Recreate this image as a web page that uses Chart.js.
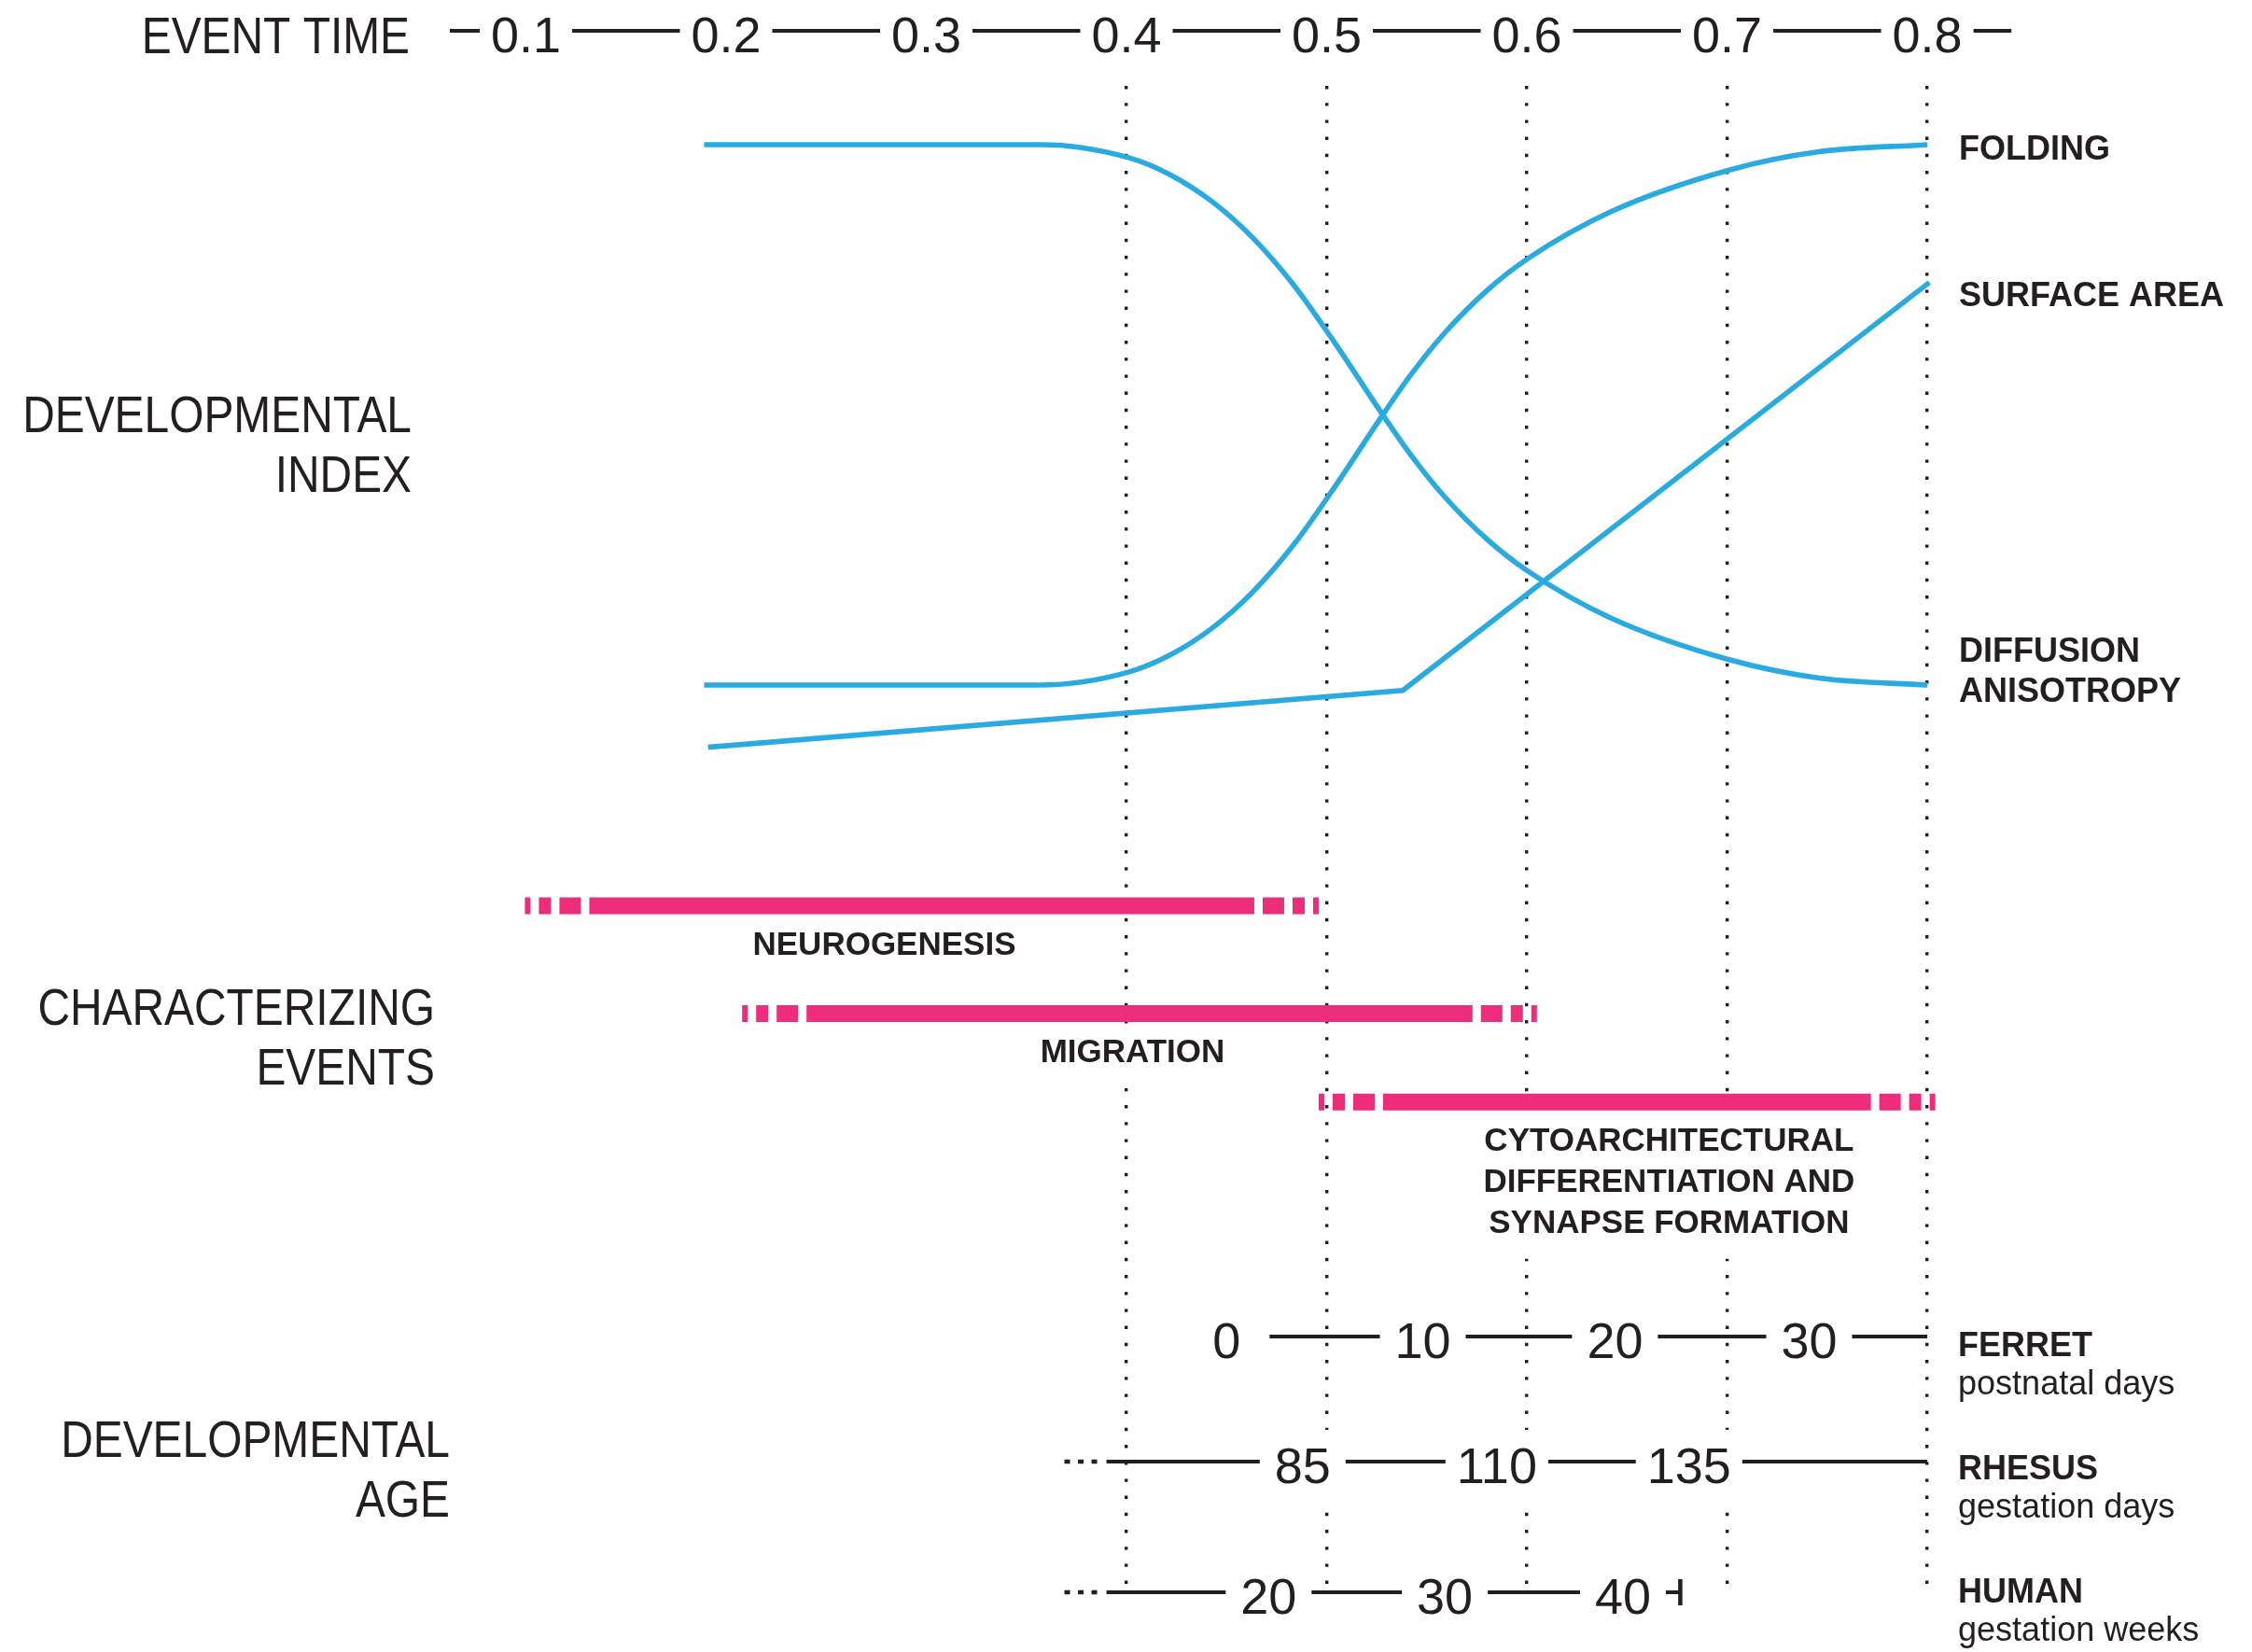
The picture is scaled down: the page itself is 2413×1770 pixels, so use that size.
<!DOCTYPE html>
<html>
<head>
<meta charset="utf-8">
<script src="https://cdn.jsdelivr.net/npm/chart.js@4.4.1/dist/chart.umd.min.js"></script>
<style>
  html, body { margin: 0; padding: 0; background: #fff; }
  canvas { display: block; }
</style>
</head>
<body>
<canvas id="timeline" width="2413" height="1770"></canvas>
<script>
const INK = '#231f20';
const BLUE = '#29abe2';
const PINK = '#ed2c7b';
const SANS = '"Liberation Sans", Arial, sans-serif';

// event time axis
const eventTimeTicks = [0.1, 0.2, 0.3, 0.4, 0.5, 0.6, 0.7, 0.8];
const guideTimes = [0.4, 0.5, 0.6, 0.7, 0.8];

// developmental index curves
const seriesNames = [['FOLDING'], ['SURFACE AREA'], ['DIFFUSION', 'ANISOTROPY']];
const curveTime = [0.189, 0.357, 0.401, 0.422, 0.443, 0.463, 0.484, 0.505, 0.526, 0.542, 0.559,
                   0.580, 0.600, 0.642, 0.701, 0.746, 0.800];
const foldingIndex = [0, 0, 0.024, 0.056, 0.106, 0.172, 0.262, 0.372, 0.489, 0.574, 0.652,
                      0.730, 0.788, 0.876, 0.953, 0.987, 1];
const diffusionIndex = [1, 1, 0.976, 0.944, 0.894, 0.828, 0.738, 0.628, 0.511, 0.426, 0.348,
                        0.270, 0.212, 0.124, 0.047, 0.013, 0];
const surfaceTime = [0.191, 0.538, 0.801];
const surfaceIndex = [-0.115, -0.01, 0.745];

// characterizing events
const eventNames = [['NEUROGENESIS'], ['MIGRATION'], ['CYTOARCHITECTURAL', 'DIFFERENTIATION AND', 'SYNAPSE FORMATION']];
const eventStart = [0.0995, 0.208, 0.496];
const eventEnd = [0.496, 0.605, 0.804];

// developmental age, each tick with the event time it sits at
const ferretDays = [0, 10, 20, 30];
const ferretTime = [0.450, 0.548, 0.644, 0.741];
const rhesusDays = [85, 110, 135];
const rhesusTime = [0.488, 0.585, 0.681];
const humanWeeks = [20, 30, 40];
const humanTime = [0.471, 0.559, 0.648];

// layout
const PLOT_TOP = 92, PLOT_BOTTOM = 1705;
const T_LEFT = -0.1627, T_RIGHT = 0.9622;
const eventRow = [0, 1, 1.82];
const eventLabelTime = [0.279, 0.403, 0.671];
const seriesLabelDy = [16, 25, -25];
const RAMP = [6, 9, 13, 9, 23, 9];
const SQUEEZE = 0.855;

const sections = [
  { lines: ['EVENT TIME'], right: 439, base: [57] },
  { lines: ['DEVELOPMENTAL', 'INDEX'], right: 441, base: [463, 527] },
  { lines: ['CHARACTERIZING', 'EVENTS'], right: 466, base: [1098, 1162] },
  { lines: ['DEVELOPMENTAL', 'AGE'], right: 482, base: [1561, 1625] }
];

const rulers = [
  { labels: eventTimeTicks.map(v => v.toFixed(1)), times: eventTimeTicks, y: 33, from: 0.062, to: 0.842, width: 3.9 },
  { labels: ferretDays.map(String), times: ferretTime, y: 1432, from: ferretTime[0], to: 0.8, width: 4.2,
    title: 'FERRET', sub: 'postnatal days', titleY: 1453 },
  { labels: rhesusDays.map(String), times: rhesusTime, y: 1566, from: 0.390, to: 0.8, width: 4.2, lead: [0.369, 0.3855],
    title: 'RHESUS', sub: 'gestation days', titleY: 1585 },
  { labels: humanWeeks.map(String), times: humanTime, y: 1706, from: 0.390, to: 0.6765, width: 4.2, lead: [0.369, 0.3855],
    endTick: true, title: 'HUMAN', sub: 'gestation weeks', titleY: 1717 }
];

function limits(pxA, valA, pxB, valB) {
  const k = (pxB - pxA) / (valB - valA);
  const atTop = valA + (PLOT_TOP - pxA) / k;
  const atBottom = valA + (PLOT_BOTTOM - pxA) / k;
  return { min: Math.min(atTop, atBottom), max: Math.max(atTop, atBottom), reverse: k > 0 };
}

function fadeDash(c) {
  const i = c.dataset.eventIndex;
  const xs = c.chart.scales.x;
  const len = Math.abs(xs.getPixelForValue(eventEnd[i]) - xs.getPixelForValue(eventStart[i]));
  const ramp = RAMP.reduce((a, b) => a + b, 0);
  return [...RAMP, Math.max(len - 2 * ramp, 0), 9, 23, 9, 13, 9, 6, 2000];
}

const datasets = [
  { label: 'Folding', data: curveTime.map((t, i) => ({ x: t, y: foldingIndex[i] })), cubicInterpolationMode: 'monotone' },
  { label: 'Surface area', data: surfaceTime.map((t, i) => ({ x: t, y: surfaceIndex[i] })), tension: 0 },
  { label: 'Diffusion anisotropy', data: curveTime.map((t, i) => ({ x: t, y: diffusionIndex[i] })), cubicInterpolationMode: 'monotone' }
].map(d => Object.assign(d, {
  yAxisID: 'yIdx', borderColor: BLUE, borderWidth: 5.6, pointRadius: 0,
  borderCapStyle: 'butt', borderJoinStyle: 'miter', fill: false
}));

eventNames.forEach((n, i) => {
  datasets.push({
    label: n.join(' '), eventIndex: i, yAxisID: 'yEv',
    data: [{ x: eventStart[i], y: eventRow[i] }, { x: eventEnd[i], y: eventRow[i] }],
    borderColor: PINK, borderWidth: 18, pointRadius: 0, borderCapStyle: 'butt',
    borderDash: fadeDash, tension: 0, fill: false
  });
});

function px(chart, t) { return chart.scales.x.getPixelForValue(t); }

function squeezed(ctx, str, x, y, align) {
  ctx.save();
  ctx.translate(x, y);
  ctx.scale(SQUEEZE, 1);
  ctx.textAlign = align;
  ctx.fillText(str, 0, 0);
  ctx.restore();
}

function eventLabelBoxes(chart, ctx) {
  const yEv = chart.scales.yEv;
  ctx.font = `bold 35px ${SANS}`;
  return eventNames.map((lines, i) => {
    const cx = px(chart, eventLabelTime[i]);
    const base = yEv.getPixelForValue(eventRow[i]) + 52;
    const w = Math.max(...lines.map(s => ctx.measureText(s).width));
    return { lines, cx, base, w };
  });
}

const inkPlugin = {
  id: 'ink',
  beforeDraw(chart) {
    const ctx = chart.ctx;
    ctx.save();
    ctx.fillStyle = '#fff';
    ctx.fillRect(0, 0, chart.width, chart.height);
    ctx.restore();
  },
  beforeDatasetsDraw(chart) {
    // white boxes behind labels knock the dotted guides out
    const ctx = chart.ctx;
    ctx.save();
    ctx.fillStyle = '#fff';
    eventLabelBoxes(chart, ctx).forEach(b => {
      const h = (b.lines.length - 1) * 44;
      ctx.fillRect(b.cx - b.w / 2 - 12, b.base - 40, b.w + 24, h + 68);
    });
    ctx.font = `54px ${SANS}`;
    rulers.forEach(r => {
      r.times.forEach((t, i) => {
        const w = ctx.measureText(r.labels[i]).width;
        const c = px(chart, t);
        ctx.fillRect(c - w / 2 - 10, r.y + 23 - 57, w + 20, 85);
      });
    });
    ctx.restore();
  },
  afterDatasetsDraw(chart) {
    const ctx = chart.ctx;
    ctx.save();
    ctx.fillStyle = INK;
    ctx.strokeStyle = INK;
    ctx.textBaseline = 'alphabetic';

    // section titles on the left
    ctx.font = `56px ${SANS}`;
    sections.forEach(s => s.lines.forEach((l, i) => squeezed(ctx, l, s.right, s.base[i], 'right')));

    // rulers
    rulers.forEach(r => {
      ctx.font = `54px ${SANS}`;
      const cuts = r.times.map((t, i) => {
        const c = px(chart, t);
        const half = Math.max(ctx.measureText(r.labels[i]).width / 2 + 12, 46);
        return [c - half, c + half];
      });
      const a = px(chart, r.from), b = px(chart, r.to);
      let cur = a;
      ctx.lineWidth = r.width;
      ctx.setLineDash([]);
      ctx.beginPath();
      cuts.forEach(([l, rr]) => {
        if (rr <= cur) return;
        if (l > cur) { ctx.moveTo(cur, r.y); ctx.lineTo(Math.min(l, b), r.y); }
        cur = Math.max(cur, rr);
      });
      if (cur < b) { ctx.moveTo(cur, r.y); ctx.lineTo(b, r.y); }
      ctx.stroke();
      if (r.endTick) ctx.fillRect(b - 2, r.y - 14, 4.5, 28);
      if (r.lead) {
        ctx.lineWidth = 4.5;
        ctx.setLineDash([6, 8.5]);
        ctx.beginPath();
        ctx.moveTo(px(chart, r.lead[0]), r.y);
        ctx.lineTo(px(chart, r.lead[1]), r.y);
        ctx.stroke();
        ctx.setLineDash([]);
      }
      ctx.textAlign = 'center';
      r.times.forEach((t, i) => ctx.fillText(r.labels[i], px(chart, t), r.y + 23));
      if (r.title) {
        const x = px(chart, 0.8) + 33;
        ctx.textAlign = 'left';
        ctx.font = `bold 36px ${SANS}`;
        ctx.fillText(r.title, x, r.titleY);
        ctx.font = `36px ${SANS}`;
        ctx.fillText(r.sub, x, r.titleY + 41);
      }
    });

    // event labels
    ctx.font = `bold 35px ${SANS}`;
    ctx.textAlign = 'center';
    eventLabelBoxes(chart, ctx).forEach(b => {
      b.lines.forEach((l, j) => ctx.fillText(l, b.cx, b.base + j * 44));
    });

    // series labels at the curve ends
    ctx.font = `bold 36px ${SANS}`;
    ctx.textAlign = 'left';
    seriesNames.forEach((lines, i) => {
      const meta = chart.getDatasetMeta(i);
      const last = meta.data[meta.data.length - 1];
      const x = px(chart, 0.8) + 34;
      lines.forEach((l, j) => ctx.fillText(l, x, last.y + seriesLabelDy[i] + j * 43));
    });
    ctx.restore();
  }
};

new Chart(document.getElementById('timeline').getContext('2d'), {
  type: 'line',
  data: { datasets },
  options: {
    responsive: false,
    animation: false,
    events: [],
    layout: { padding: { top: PLOT_TOP, bottom: 1770 - PLOT_BOTTOM, left: 0, right: 0 } },
    scales: {
      x: {
        type: 'linear', min: T_LEFT, max: T_RIGHT,
        afterBuildTicks: s => { s.ticks = eventTimeTicks.map(v => ({ value: v })); },
        afterFit: s => { s.height = 0; },
        ticks: { display: false },
        grid: {
          drawTicks: false,
          lineWidth: 3.4,
          color: c => (c.tick && guideTimes.some(g => Math.abs(g - c.tick.value) < 1e-6)) ? INK : 'rgba(0,0,0,0)'
        },
        border: { display: false, dash: [3.4, 14.8] }
      },
      yIdx: Object.assign({ type: 'linear', display: false }, limits(155, 1, 734, 0)),
      yEv: Object.assign({ type: 'linear', display: false }, limits(970.5, 0, 1086, 1))
    },
    plugins: { legend: { display: false }, tooltip: { enabled: false } }
  },
  plugins: [inkPlugin]
});
</script>
</body>
</html>
